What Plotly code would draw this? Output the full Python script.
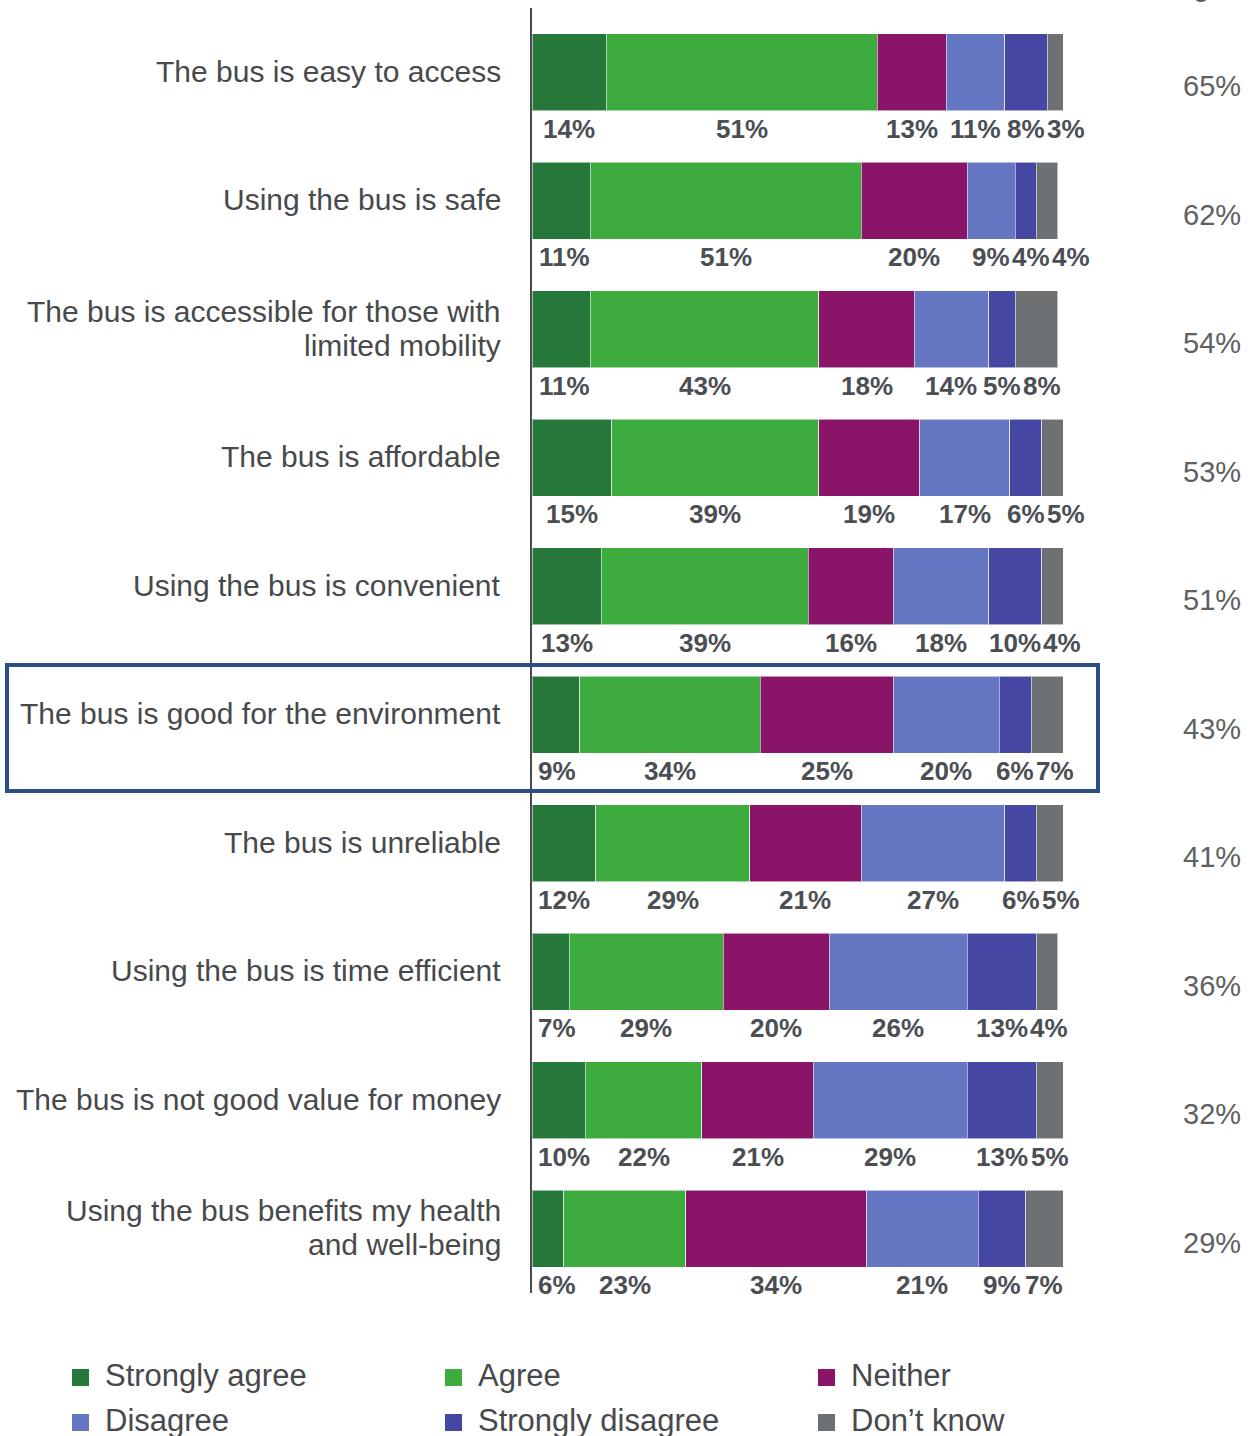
import plotly.graph_objects as go

# Survey statements (top to bottom); "|" separates wrapped lines
statements = [
    "The bus is easy to access",
    "Using the bus is safe",
    "The bus is accessible for those with|limited mobility",
    "The bus is affordable",
    "Using the bus is convenient",
    "The bus is good for the environment",
    "The bus is unreliable",
    "Using the bus is time efficient",
    "The bus is not good value for money",
    "Using the bus benefits my health|and well-being",
]

# Response shares (%) per statement
strongly_agree = [14, 11, 11, 15, 13, 9, 12, 7, 10, 6]
agree = [51, 51, 43, 39, 39, 34, 29, 29, 22, 23]
neither = [13, 20, 18, 19, 16, 25, 21, 20, 21, 34]
disagree = [11, 9, 14, 17, 18, 20, 27, 26, 29, 21]
strongly_disagree = [8, 4, 5, 6, 10, 6, 6, 13, 13, 9]
dont_know = [3, 4, 8, 5, 4, 7, 5, 4, 5, 7]

# Net agreement shown at the right
net_agree = [65, 62, 54, 53, 51, 43, 41, 36, 32, 29]

series_names = ["Strongly agree", "Agree", "Neither", "Disagree",
                "Strongly disagree", "Don\u2019t know"]
series_values = [strongly_agree, agree, neither, disagree,
                 strongly_disagree, dont_know]
series_colors = ["#25773a", "#3eab3e", "#891468", "#6577c2", "#4646a3", "#6d7174"]

W, H = 1254, 1436
ML, MR, MT, MB = 532, 191, 8, 143
PW = W - ML - MR
PH = H - MT - MB
FONT = "Liberation Sans, Arial, sans-serif"


def px2x(px):
    return (px - ML) / PW


def px2y(py):
    return (H - MB - py) / PH


fig = go.Figure()
rows = list(range(len(statements)))

for name, vals, col in zip(series_names, series_values, series_colors):
    fig.add_trace(go.Bar(
        x=vals, y=rows, orientation="h", name=name, width=0.6,
        marker=dict(color=col, line=dict(color="rgba(255,255,255,0.55)", width=1)),
        showlegend=False, hoverinfo="x+name",
    ))

annotations = []

# Value labels under each segment, nudged apart where segments are narrow
px_per_unit = PW / 100.0
char_w = {"%": 22.0}
for r in rows:
    start = 0.0
    prev_right = ML + 3
    for vals in series_values:
        v = vals[r]
        txt = f"{v}%"
        w = sum(char_w.get(c, 14.0) for c in txt)
        centre = ML + (start + v / 2.0) * px_per_unit
        centre = max(centre, prev_right + 4 + w / 2.0)
        prev_right = centre + w / 2.0
        annotations.append(dict(
            x=px2x(centre), xref="paper", y=r + 0.44, yref="y",
            text=txt, showarrow=False, xanchor="center", yanchor="middle",
            font=dict(family=FONT, size=26, color="#4b4e53", weight="bold"),
        ))
        start += v

label_font = dict(family=FONT, size=30, color="#47494c")
for r, label in enumerate(statements):
    lines = label.split("|")
    n = len(lines)
    for k, line in enumerate(lines):
        annotations.append(dict(
            x=px2x(503), xref="paper", y=r, yref="y",
            yshift=-(k - (n - 1) / 2.0) * 34 + 1,
            text=line, showarrow=False, xanchor="right", yanchor="middle",
            font=label_font,
        ))
    annotations.append(dict(
        x=px2x(1243), xref="paper", y=r + 0.11, yref="y",
        text=f"{net_agree[r]}%", showarrow=False, xanchor="right",
        yanchor="middle", font=dict(family=FONT, size=29, color="#5f6062"),
    ))

# Column heading for the net figures (sits at the very top edge)
annotations.append(dict(
    x=px2x(1212), xref="paper", y=px2y(4), yref="paper", text="Agree",
    showarrow=False, xanchor="center", yanchor="bottom",
    font=dict(family=FONT, size=29, color="#5f6062"),
))

shapes = [
    dict(type="rect", xref="paper", yref="paper",
         x0=px2x(7), x1=px2x(1098), y0=px2y(791), y1=px2y(665),
         line=dict(color="#2c4e87", width=4), fillcolor="rgba(0,0,0,0)"),
]

# Legend: 3 columns x 2 rows of coloured squares with text
leg_cols = [72, 445, 818]
leg_rows = [1377, 1422]
for i, (name, col) in enumerate(zip(series_names, series_colors)):
    cx = leg_cols[i % 3]
    cy = leg_rows[i // 3]
    shapes.append(dict(
        type="rect", xref="paper", yref="paper",
        x0=px2x(cx), x1=px2x(cx + 17), y0=px2y(cy + 9), y1=px2y(cy - 8),
        fillcolor=col, line=dict(width=0),
    ))
    annotations.append(dict(
        x=px2x(cx + 31), xref="paper", y=px2y(cy - 2), yref="paper",
        text=name, showarrow=False, xanchor="left", yanchor="middle",
        font=dict(family=FONT, size=31, color="#47494c"),
    ))

fig.update_layout(
    width=W, height=H,
    margin=dict(l=ML, r=MR, t=MT, b=MB, pad=0),
    barmode="stack", bargap=0.4,
    paper_bgcolor="white", plot_bgcolor="white",
    annotations=annotations, shapes=shapes,
    showlegend=False,
)
fig.update_xaxes(range=[0, 100], visible=False, fixedrange=True)
fig.update_yaxes(range=[len(statements) - 0.5, -0.5], showticklabels=False,
                 showgrid=False, zeroline=False, showline=True,
                 linecolor="#4a4a4a", linewidth=2, ticks="", fixedrange=True)

fig.write_html("out.html", config={"displayModeBar": False})
